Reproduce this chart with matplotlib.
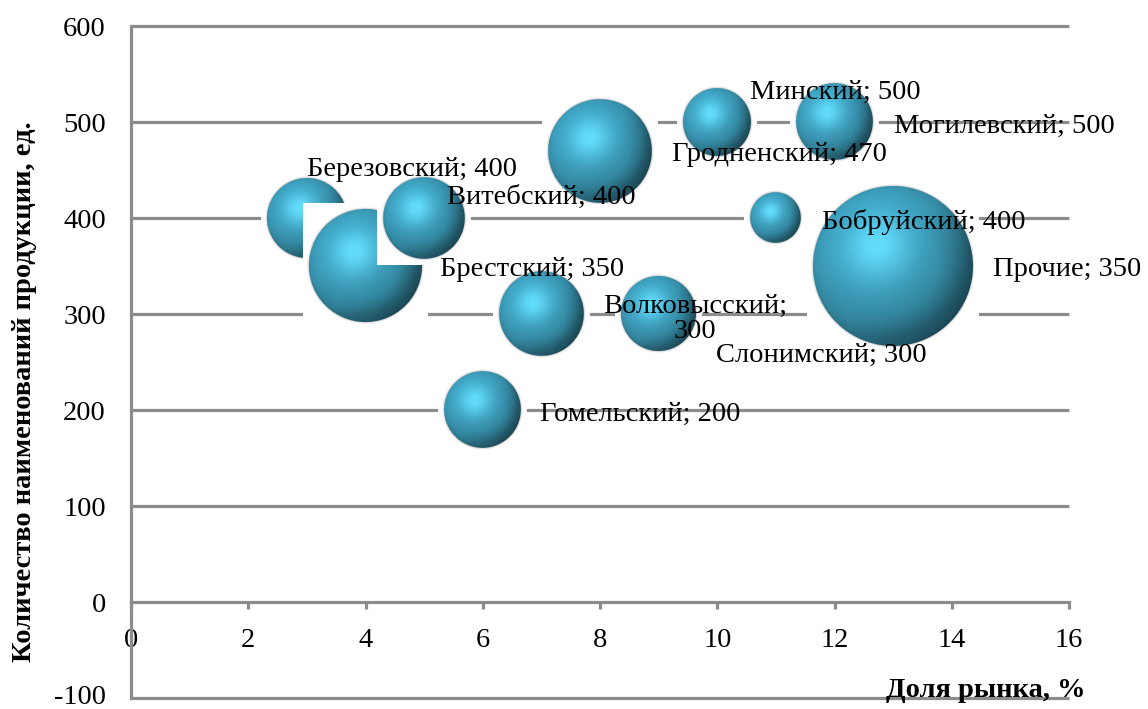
import numpy as np
import matplotlib
matplotlib.use("Agg")
import matplotlib.pyplot as plt
import matplotlib.transforms as mtransforms
from matplotlib.offsetbox import OffsetImage, AnnotationBbox

plt.rcParams["font.family"] = ["Liberation Serif", "DejaVu Serif"]
plt.rcParams["axes.unicode_minus"] = False

# plants: market share (%), number of product names, bubble size
names = ["Березовский", "Брестский", "Витебский", "Гродненский", "Минский",
         "Могилевский", "Бобруйский", "Прочие", "Волковысский", "Слонимский",
         "Гомельский"]
share = [3, 4, 5, 8, 10, 12, 11, 13, 7, 9, 6]
products = [400, 350, 400, 470, 500, 500, 400, 350, 300, 300, 200]
bubble = [25, 50, 26, 42, 18, 23, 10, 100, 28, 22, 23]

# label offsets (pixels) per point
label_off = [(0, 48), (75, -4), (23, 21), (72, -4), (33, 30), (59, -4),
             (46, -4), (100, -4), (154, -5), (57, -41), (57, -4)]
label_text = [f"{n}; {v}" for n, v in zip(names, products)]
label_text[8] = "Волковысский;\n300"

GRID = "#8c8c8c"
FS = 20.5
MAX_D = 160  # diameter of the largest bubble, px


def sphere(d, margin=6):
    n = int(round(d)) + 2 * margin
    c = (n - 1) / 2
    yy, xx = np.mgrid[0:n, 0:n].astype(float)
    r = d / 2
    u = (xx - c) / r
    v = (yy - c) / r
    rr = np.sqrt(u ** 2 + v ** 2)
    z = np.sqrt(np.clip(1 - rr ** 2, 0, 1))
    L = np.array([-0.35, -0.45, 0.82])
    L /= np.linalg.norm(L)
    diff = np.clip(u * L[0] + v * L[1] + z * L[2], 0, 1)
    H = L + np.array([0, 0, 1.0])
    H /= np.linalg.norm(H)
    spec = np.clip(u * H[0] + v * H[1] + z * H[2], 0, 1)
    base = np.array([0.25, 0.65, 0.77])
    col = base * (0.68 + 0.36 * diff)[..., None]
    col += (0.22 * spec ** 12)[..., None] * np.array([0.6, 0.9, 0.9])
    # darker shade on the far right / lower-right rim
    edge = np.clip(rr - 0.55, 0, 1) / 0.45
    side = np.clip(0.7 * u + 0.5 * v, 0, 1)
    col *= (1 - 0.45 * edge * side)[..., None]
    col = np.clip(col, 0, 1)
    dist = rr * r
    cov = np.clip(r - dist + 0.5, 0, 1)
    img = np.ones((n, n, 3))
    fringe = np.clip(1 - np.abs(dist - r) / 2.0, 0, 1) * 0.4
    img = img * (1 - fringe[..., None]) + 0.55 * fringe[..., None]
    img = img * (1 - cov[..., None]) + col * cov[..., None]
    return img


fig = plt.figure(figsize=(11.48, 7.09), dpi=100)
ax = fig.add_axes([131 / 1148, 11 / 709, 938 / 1148, 672 / 709])
ax.set_xlim(0, 16)
ax.set_ylim(-100, 600)

yt = np.arange(-100, 601, 100)
ax.hlines([t for t in yt if t != 0], 0, 16, color=GRID, lw=2.3,
          clip_on=False, zorder=1)

for sp in ["top", "right"]:
    ax.spines[sp].set_visible(False)
ax.spines["left"].set_color(GRID)
ax.spines["left"].set_linewidth(2.3)
ax.spines["bottom"].set_position(("data", 0))
ax.spines["bottom"].set_color(GRID)
ax.spines["bottom"].set_linewidth(2.3)

ax.set_xticks(np.arange(0, 17, 2))
ax.set_yticks(yt)
ax.tick_params(axis="x", direction="out", length=5, width=2.3, color=GRID,
               labelsize=FS, pad=14)
ax.tick_params(axis="y", length=0, labelsize=FS, pad=18)
ax.get_xticklabels()[0].set_bbox(dict(fc="white", ec="none", pad=3))
low = ax.get_yticklabels()[0]
low.set_transform(low.get_transform()
                  + mtransforms.ScaledTranslation(0, 3 / 100, fig.dpi_scale_trans))

for i in range(len(names)):
    d = MAX_D * np.sqrt(bubble[i] / max(bubble))
    im = OffsetImage(sphere(d), zoom=1, dpi_cor=False)
    ab = AnnotationBbox(im, (share[i], products[i]), xycoords="data",
                        frameon=False, pad=0, zorder=3 + i * 0.01)
    ax.add_artist(ab)

for i in range(len(names)):
    dx, dy = label_off[i]
    ha = "center" if "\n" in label_text[i] else "left"
    ax.annotate(label_text[i], (share[i], products[i]), xytext=(dx, dy),
                textcoords="offset pixels", ha=ha, va="center",
                multialignment="center", fontsize=FS, zorder=5,
                linespacing=1.0)

fig.text(25 / 1148, 1 - 392 / 709, "Количество наименований продукции, ед.",
         rotation=90, ha="center", va="center", fontsize=FS,
         fontweight="bold")
fig.text(1085 / 1148, 1 - 697 / 709, "Доля рынка, %", ha="right",
         va="baseline", fontsize=FS, fontweight="bold")

fig.savefig("out.png", dpi=100)
